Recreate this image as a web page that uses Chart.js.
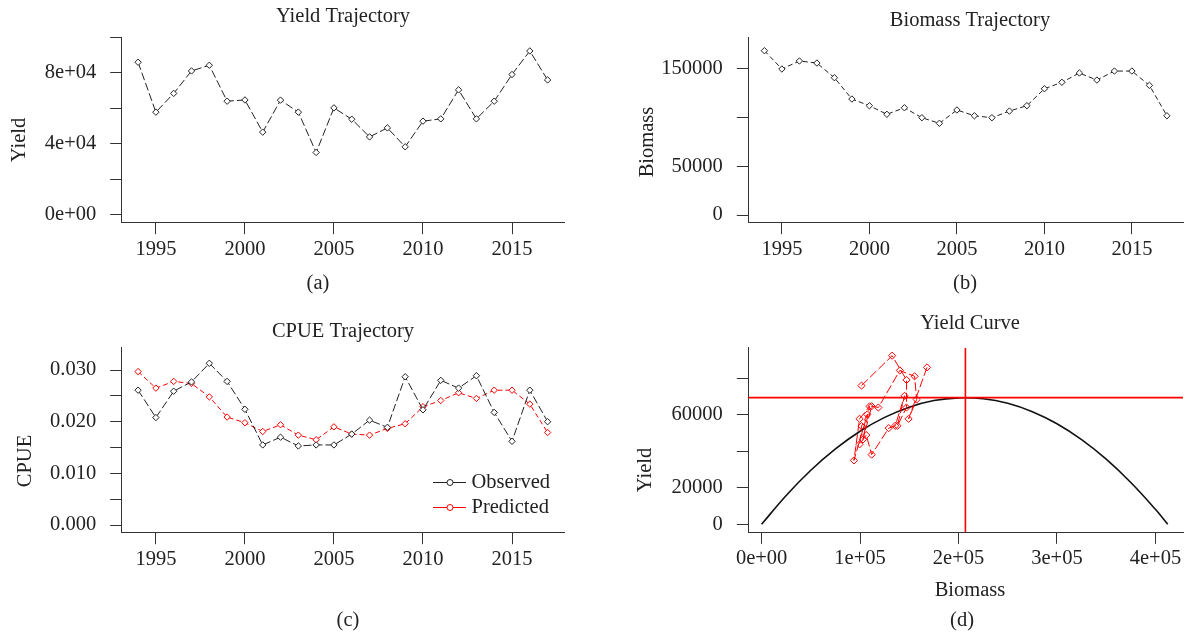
<!DOCTYPE html>
<html lang="en">

<head>
    <meta charset="UTF-8">
    <title>Surplus production model - trajectories and yield curve</title>
    <script src="https://cdn.jsdelivr.net/npm/chart.js"></script>
    <style>
        body { margin: 0; background: #fff; }
        #wrap { position: relative; width: 1188px; height: 635px; }
        #wrap canvas { position: absolute; left: 0; top: 0; }
    </style>
</head>

<body>
    <div id="wrap">
        <canvas id="chartA" width="1188" height="635"></canvas>
        <canvas id="chartB" width="1188" height="635"></canvas>
        <canvas id="chartC" width="1188" height="635"></canvas>
        <canvas id="chartD" width="1188" height="635"></canvas>
    </div>

    <script>
        // ---- data ----
        const years = [1994, 1995, 1996, 1997, 1998, 1999, 2000, 2001, 2002, 2003, 2004, 2005,
            2006, 2007, 2008, 2009, 2010, 2011, 2012, 2013, 2014, 2015, 2016, 2017];

        const yieldObs = [86000, 57800, 68400, 81100, 84300, 64000, 64700, 46500, 64600, 57800, 35000, 60200,
            53800, 43800, 48900, 38200, 52700, 54000, 70400, 54000, 64000, 79100, 92400, 76000];

        const biomass = [168000, 149300, 157500, 155400, 140400, 118600, 111800, 103000, 109700, 99500, 93800, 107400,
            101500, 99500, 106300, 111800, 129100, 135700, 145200, 138000, 147200, 147200, 132600, 101500];

        const cpueObs = [0.0261, 0.0208, 0.0259, 0.0277, 0.0313, 0.0278, 0.0224, 0.0155, 0.0170, 0.0153, 0.0155, 0.0155,
            0.0176, 0.0203, 0.0189, 0.0287, 0.0223, 0.0280, 0.0265, 0.0289, 0.0218, 0.0162, 0.0261, 0.0200];

        const cpuePred = [0.0297, 0.0265, 0.0278, 0.0274, 0.0248, 0.0209, 0.0198, 0.0181, 0.0194, 0.0174, 0.0165, 0.0190,
            0.0176, 0.0174, 0.0187, 0.0196, 0.0229, 0.0241, 0.0256, 0.0245, 0.0261, 0.0261, 0.0234, 0.0179];

        // yield curve (biomass, yield) as drawn in panel d
        const curveBiomass = [0, 25000, 50000, 75000, 100000, 125000, 150000, 175000, 200000,
            225000, 250000, 275000, 300000, 325000, 350000, 375000, 400000, 412500];
        const curveYield = [0, 15800, 29600, 41300, 51000, 58600, 64200, 67800, 69300,
            68800, 66300, 61700, 55100, 46400, 35700, 22900, 8200, 0];

        const msy = 69400;
        const bmsy = 207000;

        // tick values and labels
        const yearTicks = [1995, 2000, 2005, 2010, 2015];
        const yearLabels = ['1995', '2000', '2005', '2010', '2015'];
        const yieldTicks = [0, 20000, 40000, 60000, 80000, 100000];
        const yieldLabels = ['0e+00', '', '4e+04', '', '8e+04', ''];
        const biomassTicks = [0, 50000, 100000, 150000];
        const biomassLabels = ['0', '50000', '', '150000'];
        const cpueTicks = [0, 0.005, 0.010, 0.015, 0.020, 0.025, 0.030];
        const cpueLabels = ['0.000', '', '0.010', '', '0.020', '', '0.030'];
        const curveYTicks = [0, 20000, 40000, 60000, 80000];
        const curveYLabels = ['0', '20000', '', '60000', ''];
        const curveXTicks = [0, 100000, 200000, 300000, 400000];
        const curveXLabels = ['0e+00', '1e+05', '2e+05', '3e+05', '4e+05'];

        // ---- look ----
        const FAMILY = '"Liberation Serif", "Times New Roman", serif';
        const FSIZE = 20.5;
        const TXT = '#222';
        const AXIS = '#333';
        const LINE = '#222';
        const RED = '#ff0000';
        const W = 1188, H = 635;

        // draws titles, axis labels, captions and the little legend
        function decor(texts, legend) {
            return {
                id: 'decor',
                afterDraw(chart) {
                    const ctx = chart.ctx;
                    ctx.save();
                    ctx.font = FSIZE + 'px ' + FAMILY;
                    ctx.fillStyle = TXT;
                    ctx.textAlign = 'center';
                    ctx.textBaseline = 'middle';
                    texts.forEach(t => {
                        ctx.save();
                        ctx.translate(t.x, t.y);
                        if (t.rotate) ctx.rotate(-Math.PI / 2);
                        ctx.fillText(t.text, 0, 0);
                        ctx.restore();
                    });
                    (legend || []).forEach(it => {
                        ctx.strokeStyle = it.color;
                        ctx.lineWidth = 1;
                        ctx.beginPath();
                        ctx.moveTo(it.x1, it.y);
                        ctx.lineTo(it.x2, it.y);
                        ctx.stroke();
                        ctx.fillStyle = '#fff';
                        ctx.beginPath();
                        ctx.arc(it.cx, it.y, 3, 0, Math.PI * 2);
                        ctx.fill();
                        ctx.stroke();
                        ctx.fillStyle = TXT;
                        ctx.textAlign = 'left';
                        ctx.fillText(it.text, it.tx, it.y);
                    });
                    ctx.restore();
                }
            };
        }

        function axis(min, max, ticks, labels, horizontal) {
            return {
                type: 'linear',
                min: min,
                max: max,
                afterBuildTicks: s => { s.ticks = ticks.map(v => ({ value: v })); },
                afterFit: s => {
                    if (horizontal) s.height = 60; else s.width = 110;
                },
                ticks: {
                    autoSkip: false,
                    maxRotation: 0,
                    padding: horizontal ? 3 : 14,
                    color: TXT,
                    font: { family: FAMILY, size: FSIZE },
                    callback: (v, i) => labels[i]
                },
                grid: { drawOnChartArea: false, drawTicks: true, tickLength: 11.5, tickColor: AXIS, lineWidth: 1 },
                border: { display: true, color: AXIS, width: 1 }
            };
        }

        // chart area in page pixels -> layout padding
        function area(l, r, t, b) {
            return { left: l - 110, right: W - r, top: t, bottom: H - b - 60 };
        }

        function series(xs, ys, color, radius, dash) {
            return {
                data: xs.map((x, i) => ({ x: x, y: ys[i] })),
                borderColor: color,
                borderWidth: 1,
                borderDash: dash,
                pointStyle: 'rectRot',
                pointRadius: radius,
                pointBorderWidth: 1,
                pointBorderColor: color,
                pointBackgroundColor: '#fff',
                tension: 0
            };
        }

        function baseOptions(pad, xScale, yScale) {
            return {
                responsive: false,
                animation: false,
                events: [],
                layout: { padding: pad },
                plugins: { legend: { display: false }, tooltip: { enabled: false } },
                scales: { x: xScale, y: yScale }
            };
        }

        const yearMin = 1993.08, yearMax = 2017.92;

        // (a) yield trajectory
        new Chart(document.getElementById('chartA'), {
            type: 'line',
            data: { datasets: [series(years, yieldObs, LINE, 3.2, [8, 3])] },
            options: baseOptions(area(121.7, 564, 37.5, 222.7),
                axis(yearMin, yearMax, yearTicks, yearLabels, true),
                axis(-4700, 100000, yieldTicks, yieldLabels, false)),
            plugins: [decor([
                { text: 'Yield Trajectory', x: 343, y: 17 },
                { text: 'Yield', x: 20, y: 140, rotate: true },
                { text: '(a)', x: 318, y: 284 }
            ])]
        });

        // (b) biomass trajectory
        new Chart(document.getElementById('chartB'), {
            type: 'line',
            data: { datasets: [series(years, biomass, LINE, 3.2, [5, 3])] },
            options: baseOptions(area(748.3, 1187, 37.5, 222.7),
                axis(yearMin, yearMax, yearTicks, yearLabels, true),
                axis(-7800, 181500, biomassTicks, biomassLabels, false)),
            plugins: [decor([
                { text: 'Biomass Trajectory', x: 970, y: 20.5 },
                { text: 'Biomass', x: 648, y: 142, rotate: true },
                { text: '(b)', x: 965, y: 284 }
            ])]
        });

        // (c) cpue observed vs predicted
        new Chart(document.getElementById('chartC'), {
            type: 'line',
            data: {
                datasets: [
                    series(years, cpueObs, LINE, 3.2, [8, 3]),
                    series(years, cpuePred, RED, 3.2, [5, 3])
                ]
            },
            options: baseOptions(area(121.7, 564, 347.3, 532.7),
                axis(yearMin, yearMax, yearTicks, yearLabels, true),
                axis(-0.00149, 0.0344, cpueTicks, cpueLabels, false)),
            plugins: [decor([
                { text: 'CPUE Trajectory', x: 343, y: 331.5 },
                { text: 'CPUE', x: 26, y: 461, rotate: true },
                { text: '(c)', x: 348, y: 620.5 }
            ], [
                { text: 'Observed', color: LINE, x1: 433, x2: 466, cx: 450, tx: 471.5, y: 482.5 },
                { text: 'Predicted', color: RED, x1: 433, x2: 466, cx: 450, tx: 471.5, y: 507.5 }
            ])]
        });

        // (d) yield curve with observed (biomass, yield) pairs
        const dxMin = -13500, dxMax = 428000, dyMin = -4380, dyMax = 96770;
        const curve = series(curveBiomass, curveYield, '#111', 0, []);
        curve.borderWidth = 1.6;
        curve.tension = 0.4;
        curve.order = 3;
        const pairs = series(biomass, yieldObs, RED, 3.6, [9, 3]);
        pairs.pointBackgroundColor = 'rgba(0,0,0,0)';
        pairs.order = 2;
        // msy / bmsy reference lines, a bit wider so they read bright red
        const msyLine = series([dxMin, dxMax], [msy, msy], RED, 0, []);
        msyLine.borderWidth = 1.6;
        msyLine.order = 1;
        const bmsyLine = series([bmsy, bmsy], [dyMin, dyMax], RED, 0, []);
        bmsyLine.borderWidth = 1.6;
        bmsyLine.order = 1;

        new Chart(document.getElementById('chartD'), {
            type: 'line',
            data: { datasets: [curve, pairs, msyLine, bmsyLine] },
            options: baseOptions(area(748.3, 1187, 347.7, 532.3),
                axis(dxMin, dxMax, curveXTicks, curveXLabels, true),
                axis(dyMin, dyMax, curveYTicks, curveYLabels, false)),
            plugins: [decor([
                { text: 'Yield Curve', x: 970, y: 324 },
                { text: 'Yield', x: 646, y: 470, rotate: true },
                { text: 'Biomass', x: 970, y: 591 },
                { text: '(d)', x: 962, y: 620.5 }
            ])]
        });
    </script>
</body>

</html>
